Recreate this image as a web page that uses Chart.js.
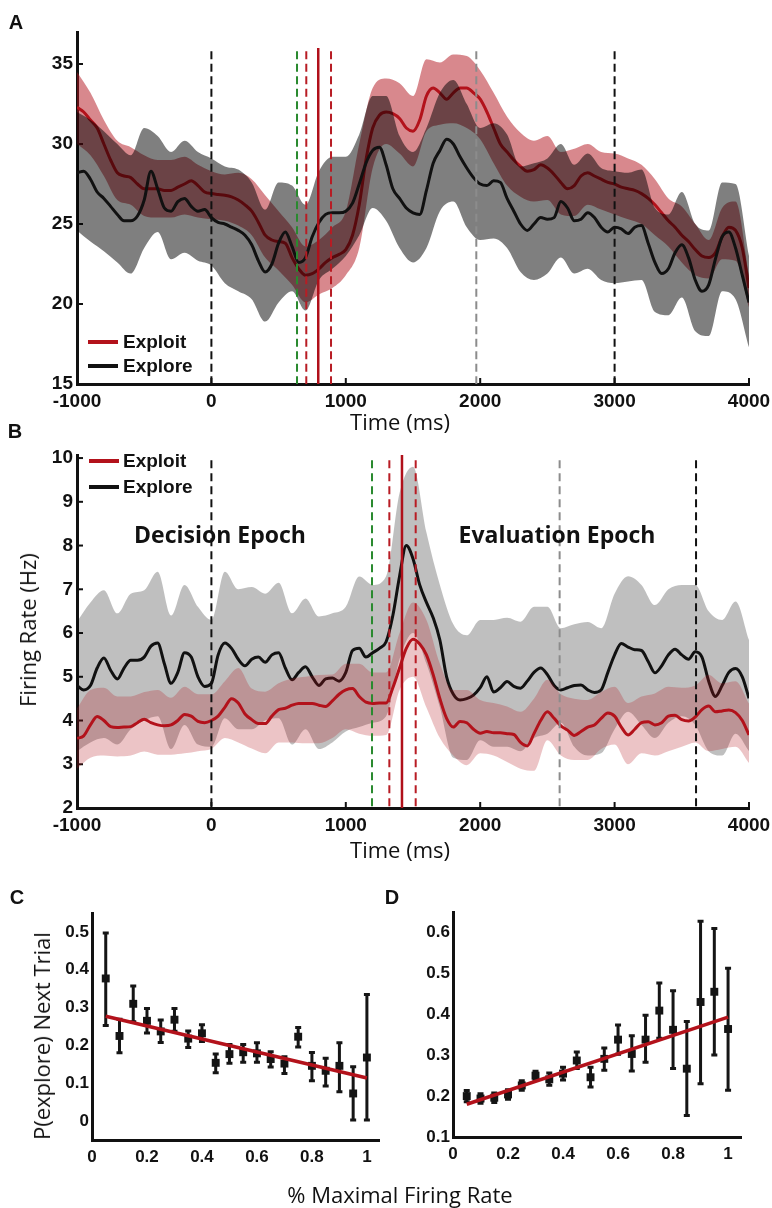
<!DOCTYPE html>
<html><head><meta charset="utf-8">
<script src="https://cdn.jsdelivr.net/npm/chart.js@4.4.1/dist/chart.umd.min.js"></script>
<style>
html,body{margin:0;padding:0;background:#fff;}
body{width:772px;height:1208px;position:relative;overflow:hidden;}
canvas{position:absolute;}
.t{position:absolute;white-space:nowrap;color:#111;line-height:1;transform:translate(-50%,-50%);}
.lab{font:bold 20px "Liberation Sans",Arial,sans-serif;}
.ax{font:22px "Open Sans",sans-serif;}
.ep{font:bold 23px "Open Sans",sans-serif;}
.lg{position:absolute;white-space:nowrap;color:#111;line-height:1;font:bold 19px "Liberation Sans",Arial,sans-serif;transform:translateY(-50%);}
.ll{position:absolute;height:4px;width:30px;}
.rot{transform:translate(-50%,-50%) rotate(-90deg);}
</style></head><body>
<canvas id="cA" width="772" height="440" style="left:0;top:0"></canvas>
<canvas id="cB" width="772" height="400" style="left:0;top:440px"></canvas>
<canvas id="cC" width="390" height="300" style="left:0;top:880px"></canvas>
<canvas id="cD" width="382" height="300" style="left:390px;top:880px"></canvas>

<div class="t lab" style="left:16px;top:22px">A</div>
<div class="t lab" style="left:15px;top:431px">B</div>
<div class="t lab" style="left:17px;top:897px">C</div>
<div class="t lab" style="left:392px;top:897px">D</div>
<div class="t ax" style="left:400px;top:421px">Time (ms)</div>
<div class="t ax" style="left:400px;top:849px">Time (ms)</div>
<div class="t ax rot" style="left:27px;top:630px">Firing Rate (Hz)</div>
<div class="t ax rot" style="left:41px;top:1036px">P(explore) Next Trial</div>
<div class="t ax" style="left:400px;top:1194px">% Maximal Firing Rate</div>
<div class="t ep" style="left:220px;top:534px">Decision Epoch</div>
<div class="t ep" style="left:557px;top:534px">Evaluation Epoch</div>

<div class="ll" style="left:88px;top:340px;background:#b3121b"></div>
<div class="lg" style="left:123px;top:342px">Exploit</div>
<div class="ll" style="left:88px;top:364px;background:#111"></div>
<div class="lg" style="left:123px;top:366px">Explore</div>
<div class="ll" style="left:89px;top:459px;background:#b3121b"></div>
<div class="lg" style="left:123px;top:461px">Exploit</div>
<div class="ll" style="left:89px;top:485px;background:#111"></div>
<div class="lg" style="left:123px;top:487px">Explore</div>

<script>
// ---------- DATA ----------
const tMean = Array.from({length:101},(_,i)=>-1000+50*i);   // ms, 50 ms grid
const tBand = Array.from({length:51},(_,i)=>-1000+100*i);   // ms, 100 ms grid

// Panel A
const exploitMeanA = [32.3,32.0,31.5,31.0,30.0,29.0,28.2,28.0,27.9,27.5,27.2,27.2,27.2,27.1,27.1,27.3,27.5,27.7,27.4,27.0,
 26.9,26.85,26.8,26.7,26.5,26.2,25.8,25.1,24.3,24.0,23.9,23.8,22.9,22.2,21.8,21.9,22.2,22.6,22.9,23.1,
 23.4,24.3,26.2,29.0,31.0,31.8,32.0,31.9,31.6,31.0,30.8,31.5,33.0,33.5,33.2,32.8,33.2,33.5,33.5,33.2,
 32.8,32.0,31.0,30.0,29.5,29.0,28.6,28.3,28.4,28.7,28.5,28.1,27.6,27.2,27.4,28.0,28.2,28.0,27.8,27.6,
 27.5,27.3,27.2,27.1,26.9,26.6,26.2,25.7,25.2,24.8,24.3,23.9,23.4,23.0,22.9,23.2,24.2,24.8,24.6,23.5,21.0];
const exploreMeanA = [28.2,28.3,27.8,27.0,26.6,26.1,25.6,25.2,25.2,25.5,26.5,28.3,27.2,26.0,25.8,26.4,26.6,26.1,25.8,25.9,
 25.4,25.1,25.0,24.8,24.6,24.3,23.7,22.7,22.0,22.5,23.8,24.5,23.6,22.6,22.9,24.2,25.1,25.6,25.7,25.7,
 25.8,26.3,27.5,28.8,29.6,29.8,28.7,27.2,26.6,26.0,25.7,25.6,27.1,28.8,29.6,30.3,30.0,29.2,28.5,27.9,
 27.5,27.4,27.7,27.6,26.6,25.8,25.0,24.6,25.0,25.4,25.3,25.4,26.4,26.0,25.2,25.3,25.7,25.4,24.8,24.5,
 24.8,24.7,24.4,24.8,24.9,23.8,22.6,21.9,22.2,23.2,23.7,22.9,21.5,20.8,21.2,22.8,24.2,24.5,23.5,21.8,20.1];
const exploitHiA = [34.5,33.2,31.5,30.2,29.8,29.3,29.0,29.0,29.2,28.7,28.3,28.1,28.2,27.8,26.8,25.8,24.8,23.6,24.0,24.8,
 25.8,30.0,33.5,34.1,33.8,33.0,35.3,35.1,35.6,35.5,34.6,33.2,31.7,30.7,30.2,30.5,29.5,29.7,30.0,29.5,
 29.4,29.1,28.7,27.8,26.6,26.1,25.0,24.0,26.0,26.4,21.8];
const exploitLoA = [30.0,29.3,28.0,26.5,26.2,25.5,25.4,25.4,25.6,25.4,25.3,25.2,24.9,24.3,22.9,22.1,21.2,20.1,20.6,21.0,
 21.8,23.5,28.5,30.0,29.4,28.6,30.8,31.2,31.3,31.0,30.3,28.8,27.4,26.7,26.4,26.5,25.6,25.5,26.2,25.9,
 25.6,25.3,25.0,24.3,23.6,22.6,21.8,21.6,22.8,22.7,19.8];
const exploreHiA = [32.0,31.5,30.8,30.0,29.3,31.0,30.5,29.5,30.2,29.5,29.1,28.6,28.4,27.6,25.9,27.6,27.4,26.2,28.3,29.2,
 29.2,30.6,33.0,33.0,30.5,29.5,31.0,33.2,34.0,32.5,31.0,31.3,30.6,28.6,28.8,29.1,30.0,28.7,29.4,28.5,
 28.3,28.2,28.4,26.0,25.6,27.0,25.0,24.6,27.6,27.5,23.0];
const exploreLoA = [24.6,23.9,23.3,22.6,21.9,23.5,24.5,22.8,23.2,22.7,22.4,21.3,20.8,20.3,18.9,20.1,20.8,19.6,21.5,22.2,
 23.0,24.3,26.0,25.2,23.5,22.6,23.5,25.8,26.4,24.8,24.0,24.1,23.5,22.0,21.5,21.9,22.9,21.9,22.2,21.5,
 21.3,21.4,21.5,19.5,19.3,20.4,18.3,18.0,20.8,20.3,17.3];
const xTicksA = [-1000,0,1000,2000,3000,4000];
const yTicksA = [15,20,25,30,35];
const blackDashA = [0,3000], greenDashA = [637], redDashA = [706,890], redSolidA = [795], grayDashA = [1971];

// Panel B
const exploreMeanB = [4.8,4.7,4.8,5.2,5.43,5.15,4.95,5.2,5.38,5.38,5.45,5.7,5.77,5.3,4.85,5.1,5.55,5.45,5.0,4.78,
 4.85,5.5,5.77,5.65,5.4,5.25,5.4,5.45,5.33,5.5,5.55,5.2,4.93,5.1,5.23,5.0,4.8,4.95,4.97,4.9,
 5.1,5.6,5.65,5.45,5.55,5.65,5.8,6.4,7.3,8.0,7.7,7.1,6.7,6.35,5.84,5.0,4.6,4.47,4.5,4.58,
 4.75,5.0,4.65,4.75,4.89,4.78,4.74,4.9,5.1,5.2,5.05,4.8,4.7,4.75,4.8,4.81,4.7,4.64,4.7,5.1,
 5.5,5.76,5.68,5.62,5.6,5.35,5.09,5.25,5.5,5.63,5.5,5.4,5.57,5.45,4.9,4.55,4.8,5.1,5.19,5.0,4.51];
const exploitMeanB = [3.59,3.65,3.9,4.09,4.0,3.86,3.84,3.85,3.86,3.95,4.03,3.95,3.9,3.88,3.9,4.0,4.14,4.1,3.98,3.95,
 4.0,4.1,4.3,4.5,4.4,4.15,4.02,3.93,3.93,4.1,4.25,4.28,4.35,4.39,4.39,4.39,4.35,4.32,4.45,4.6,
 4.7,4.73,4.55,4.42,4.39,4.4,4.4,4.75,5.2,5.65,5.86,5.75,5.5,5.05,4.5,4.05,3.85,3.98,3.95,3.8,
 3.71,3.75,3.72,3.72,3.7,3.68,3.5,3.42,3.7,4.0,4.2,4.05,3.88,3.78,3.66,3.75,3.85,3.9,4.05,4.17,
 4.1,3.85,3.67,3.8,3.95,3.97,3.9,3.95,4.1,4.12,4.02,3.99,4.08,4.25,4.33,4.2,4.22,4.24,4.18,4.0,3.67];
const exploreHiB = [6.26,6.7,6.98,6.45,6.9,6.98,7.4,6.4,7.1,6.6,6.3,7.4,7.0,7.05,6.9,7.15,6.45,6.79,6.38,6.45,
 6.6,7.29,7.1,7.3,9.2,9.8,8.3,7.1,6.2,5.95,6.3,6.3,6.35,6.26,6.6,6.6,6.11,6.2,6.25,6.11,
 6.9,7.3,7.1,6.64,7.0,7.1,7.1,6.5,6.3,6.72,5.84];
const exploreLoB = [3.3,3.5,3.6,3.45,3.8,4.0,4.1,3.35,3.9,3.45,3.4,4.05,3.8,3.8,4.0,4.05,3.45,3.8,3.35,3.5,
 3.75,3.85,3.95,4.1,5.4,6.0,5.3,4.3,3.15,3.1,3.55,3.4,3.4,3.3,3.6,3.7,3.95,3.4,3.2,3.25,
 3.8,4.2,3.9,3.6,3.95,4.1,3.9,3.3,3.2,3.7,3.3];
const exploitHiB = [4.28,4.7,4.75,4.55,4.55,4.65,4.7,4.52,4.77,4.6,4.6,4.9,5.2,4.73,4.66,4.85,4.96,5.0,5.04,5.05,
 5.3,5.3,5.1,5.1,6.0,6.7,6.3,5.3,4.7,4.7,4.47,4.4,4.32,4.2,4.5,4.93,4.6,4.5,4.47,4.65,
 4.77,4.4,4.55,4.62,4.77,4.75,4.8,5.04,4.85,4.9,4.39];
const exploitLoB = [2.9,3.15,3.2,3.18,3.2,3.29,3.22,3.22,3.25,3.3,3.35,3.6,3.5,3.36,3.25,3.5,3.5,3.48,3.48,3.6,
 3.8,3.7,3.65,3.67,4.7,5.0,4.3,3.6,3.2,2.98,3.25,3.2,3.05,2.9,2.85,3.55,3.2,3.1,3.1,3.35,
 3.45,3.0,3.25,3.2,3.3,3.4,3.5,3.3,3.35,3.4,3.03];
const xTicksB = [-1000,0,1000,2000,3000,4000];
const yTicksB = [2,3,4,5,6,7,8,9,10];
const blackDashB = [0,3606], greenDashB = [1195], redDashB = [1324,1520], redSolidB = [1418], grayDashB = [2591];

// Panels C and D
const xBins = [0.05,0.1,0.15,0.2,0.25,0.3,0.35,0.4,0.45,0.5,0.55,0.6,0.65,0.7,0.75,0.8,0.85,0.9,0.95,1.0];
const pC   = [0.377,0.225,0.31,0.265,0.237,0.268,0.218,0.232,0.154,0.177,0.182,0.179,0.164,0.152,0.223,0.146,0.133,0.146,0.073,0.168];
const pCLo = [0.25,0.178,0.26,0.23,0.205,0.235,0.192,0.208,0.125,0.15,0.153,0.153,0.14,0.123,0.193,0.104,0.09,0.075,0.0,0.0];
const pCHi = [0.50,0.272,0.36,0.30,0.27,0.30,0.241,0.257,0.18,0.205,0.205,0.21,0.186,0.173,0.25,0.184,0.169,0.21,0.146,0.337];
const fitCx = [0.05,1.0], fitCy = [0.277,0.114];
const pD   = [0.2,0.194,0.196,0.204,0.226,0.25,0.241,0.255,0.287,0.246,0.291,0.338,0.303,0.338,0.409,0.362,0.267,0.43,0.455,0.364];
const pDLo = [0.184,0.18,0.182,0.19,0.212,0.236,0.224,0.237,0.265,0.22,0.261,0.3,0.259,0.28,0.339,0.265,0.15,0.228,0.298,0.212];
const pDHi = [0.216,0.208,0.21,0.218,0.24,0.263,0.259,0.273,0.31,0.273,0.32,0.376,0.35,0.4,0.479,0.46,0.385,0.63,0.612,0.515];
const fitDx = [0.05,1.0], fitDy = [0.18,0.393];
const xTicksCD = [0,0.2,0.4,0.6,0.8,1];
const yTicksC = [0,0.1,0.2,0.3,0.4,0.5];
const yTicksD = [0.1,0.2,0.3,0.4,0.5,0.6];

// ---------- HELPERS ----------
const RED='#b3121b', BLK='#111111';
const pts=(xs,ys)=>xs.map((x,i)=>({x:x,y:ys[i]}));

const inTicks={id:'inTicks',
  beforeDatasetsDraw(chart,args,opts){
    if(!opts||!opts.len) return;
    const {ctx,chartArea:a}=chart, sx=chart.scales.x, sy=chart.scales.y;
    ctx.save(); ctx.strokeStyle=BLK; ctx.lineWidth=2;
    sx.ticks.forEach(t=>{const p=sx.getPixelForValue(t.value);ctx.beginPath();ctx.moveTo(p,a.bottom);ctx.lineTo(p,a.bottom-opts.len);ctx.stroke();});
    sy.ticks.forEach(t=>{const p=sy.getPixelForValue(t.value);ctx.beginPath();ctx.moveTo(a.left,p);ctx.lineTo(a.left+opts.len,p);ctx.stroke();});
    ctx.restore();
  }};

const errBars={id:'errBars',
  beforeDatasetsDraw(chart){
    const {ctx}=chart, sx=chart.scales.x, sy=chart.scales.y;
    chart.data.datasets.forEach(ds=>{
      if(!ds.errLo) return;
      ctx.save(); ctx.strokeStyle='#151515'; ctx.lineWidth=3; ctx.lineCap='butt';
      ds.data.forEach((d,i)=>{
        const px=sx.getPixelForValue(d.x), p1=sy.getPixelForValue(ds.errLo[i]), p2=sy.getPixelForValue(ds.errHi[i]);
        ctx.beginPath(); ctx.moveTo(px,p1); ctx.lineTo(px,p2);
        ctx.moveTo(px-3,p1-1); ctx.lineTo(px+3,p1-1);
        ctx.moveTo(px-3,p2+1); ctx.lineTo(px+3,p2+1);
        ctx.stroke();
      });
      ctx.restore();
    });
  }};

function vlines(times,top,bottom,color,dash,width){
  return times.map(t=>({data:[{x:t,y:top},{x:t,y:bottom}],borderColor:color,borderWidth:width,borderDash:dash,
    pointRadius:0,fill:false,tension:0,cubicInterpolationMode:'default',order:0}));
}
function band(ts,hi,lo,color,order){
  return [
    {data:pts(ts,hi),borderWidth:0,pointRadius:0,fill:'+1',backgroundColor:color,cubicInterpolationMode:'monotone',order:order},
    {data:pts(ts,lo),borderWidth:0,pointRadius:0,fill:false,cubicInterpolationMode:'monotone',order:order}
  ];
}
function mean(ts,ys,color,order){
  return {data:pts(ts,ys),borderColor:color,borderWidth:3,pointRadius:0,fill:false,cubicInterpolationMode:'monotone',order:order};
}
function axis(min,max,ticks,fmt,size,isX,fontSize,pad){
  return {type:'linear',min:min,max:max,
    afterBuildTicks:s=>{s.ticks=ticks.map(v=>({value:v}));},
    afterFit:s=>{ if(isX){s.height=size;s.paddingLeft=0;s.paddingRight=0;} else {s.width=size;s.paddingTop=0;s.paddingBottom=0;} },
    grid:{display:false,drawTicks:false},
    border:{display:true,color:BLK,width:3},
    ticks:{color:BLK,padding:pad,autoSkip:false,maxRotation:0,font:{family:'"Liberation Sans", Arial, sans-serif',size:fontSize,weight:'bold'},callback:fmt}
  };
}
const fmtInt=v=>String(v);
const fmtDec=v=>String(Number(v.toFixed(2)));
const common={responsive:false,animation:false,devicePixelRatio:1,
  plugins:{legend:{display:false},tooltip:{enabled:false}}};

// ---------- PANEL A ----------
new Chart(document.getElementById('cA'),{type:'line',
  data:{datasets:[
    ...band(tBand,exploitHiA,exploitLoA,'rgba(178,18,27,0.5)',40),
    mean(tMean,exploitMeanA,RED,30),
    ...band(tBand,exploreHiA,exploreLoA,'rgba(0,0,0,0.5)',20),
    mean(tMean,exploreMeanA,BLK,10),
    ...vlines(blackDashA,35.8,15,BLK,[8,4.5],2),
    ...vlines(grayDashA,35.8,15,'#8c8c8c',[8,4.5],2),
    ...vlines(greenDashA,35.8,15,'#2a8a2f',[8,4.5],2),
    ...vlines(redDashA,35.8,15,'#b81c24',[8,4.5],2),
    ...vlines(redSolidA,36.0,15,'#b0101a',[],2.5)
  ]},
  options:{...common,layout:{padding:{left:0,top:32,right:23,bottom:0}},
    plugins:{...common.plugins,inTicks:{len:6}},
    scales:{x:axis(-1000,4000,xTicksA,fmtInt,56,true,19,6),y:axis(15,37,yTicksA,fmtInt,77,false,19,4)}},
  plugins:[inTicks]});

// ---------- PANEL B ----------
new Chart(document.getElementById('cB'),{type:'line',
  data:{datasets:[
    ...band(tBand,exploreHiB,exploreLoB,'rgba(0,0,0,0.25)',40),
    mean(tMean,exploreMeanB,BLK,30),
    ...band(tBand,exploitHiB,exploitLoB,'rgba(178,18,27,0.25)',20),
    mean(tMean,exploitMeanB,RED,10),
    ...vlines(blackDashB,9.95,2,BLK,[8,5],2),
    ...vlines(grayDashB,9.95,2,'#8c8c8c',[8,5],2),
    ...vlines(greenDashB,9.95,2,'#2a8a2f',[8,5],2),
    ...vlines(redDashB,9.95,2,'#b81c24',[8,5],2),
    ...vlines(redSolidB,10.07,2,'#b0101a',[],2.5)
  ]},
  options:{...common,layout:{padding:{left:0,top:15,right:23,bottom:0}},
    plugins:{...common.plugins,inTicks:{len:6}},
    scales:{x:axis(-1000,4000,xTicksB,fmtInt,32,true,19,6),y:axis(2,10.07,yTicksB,fmtInt,77,false,19,4)}},
  plugins:[inTicks]});

// ---------- PANELS C, D ----------
function scatterPanel(id,ys,lo,hi,fx,fy,ymin,ymax,yTicks,xmax,yw,pad){
  new Chart(document.getElementById(id),{type:'scatter',
    data:{datasets:[
      {data:pts(xBins,ys),errLo:lo,errHi:hi,pointStyle:'rect',pointRadius:5.6,backgroundColor:'#141414',borderWidth:0,order:2},
      {data:pts(fx,fy),showLine:true,borderColor:RED,borderWidth:3.5,pointRadius:0,order:1}
    ]},
    options:{...common,layout:{padding:pad},
      scales:{x:axis(0,xmax,xTicksCD,fmtDec,pad.xh,true,17,7),y:axis(ymin,ymax,yTicks,fmtDec,yw,false,17,3)}},
    plugins:[errBars]});
}
scatterPanel('cC',pC,pCLo,pCHi,fitCx,fitCy,-0.05,0.55,yTicksC,1.044,92,{left:0,top:33,right:11,bottom:0,xh:40});
scatterPanel('cD',pD,pDLo,pDHi,fitDx,fitDy,0.1,0.65,yTicksD,1.047,63,{left:0,top:32,right:31,bottom:0,xh:43});
</script>
</body></html>
